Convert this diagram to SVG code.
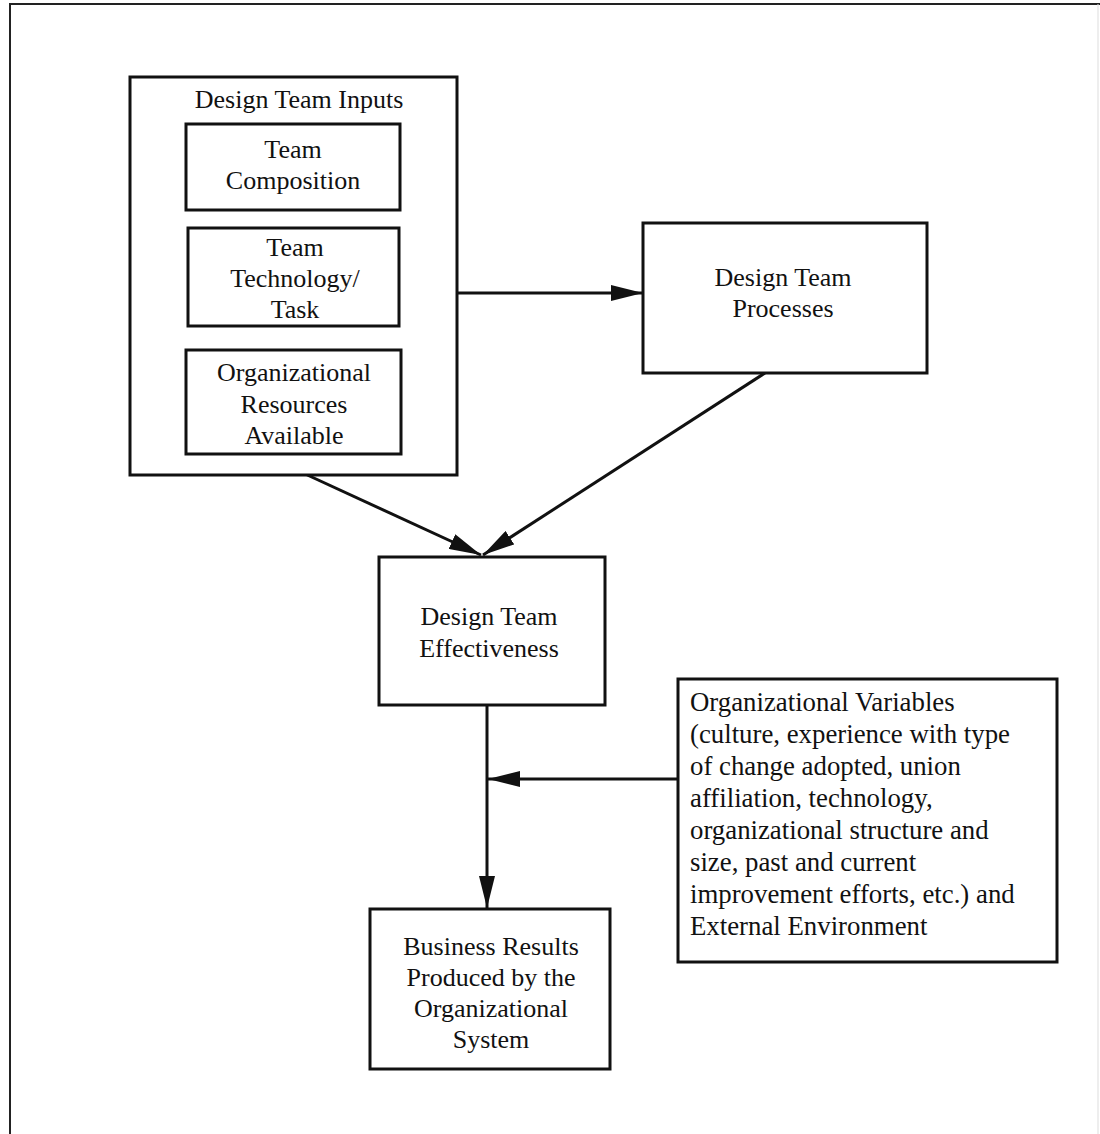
<svg xmlns="http://www.w3.org/2000/svg" width="1100" height="1134" viewBox="0 0 1100 1134">
  <style>
    .box { fill: #ffffff; stroke: #111111; stroke-width: 3; }
    .frame { fill: none; stroke: #222222; stroke-width: 2; }
    .conn { fill: none; stroke: #111111; stroke-width: 3; }
    text { font-family: "Liberation Serif", "Times New Roman", serif; font-size: 26px; fill: #111111; }
    .c { text-anchor: middle; }
    .wide { font-size: 26.8px; }
  </style>
  <defs>
    <marker id="arrow" viewBox="0 0 32 16" refX="32" refY="8" markerWidth="32" markerHeight="16" markerUnits="userSpaceOnUse" orient="auto">
      <path d="M0,0 L32,8 L0,16 z" fill="#111111"/>
    </marker>
  </defs>
  <rect width="1100" height="1134" fill="#ffffff"/>
  <g id="frame">
    <path class="frame" d="M10,1134 V4 H1100"/>
    <path d="M1098,4 V1134" fill="none" stroke="#dddddd" stroke-width="1"/>
  </g>

  <g id="connectors">
    <path class="conn" d="M457,293 H643" marker-end="url(#arrow)"/>
    <path class="conn" d="M303,473 L481,555" marker-end="url(#arrow)"/>
    <path class="conn" d="M765,373 L483,555" marker-end="url(#arrow)"/>
    <path class="conn" d="M487,705 V908" marker-end="url(#arrow)"/>
    <path class="conn" d="M678,779 H488" marker-end="url(#arrow)"/>
  </g>

  <g id="design-team-inputs">
    <rect class="box" x="130" y="77" width="327" height="398"/>
    <text class="c" x="299" y="108">Design Team Inputs</text>
  </g>
  <g id="team-composition">
    <rect class="box" x="186" y="124" width="214" height="86"/>
    <text class="c" x="293" y="158">Team</text>
    <text class="c" x="293" y="189">Composition</text>
  </g>
  <g id="team-technology">
    <rect class="box" x="188" y="228" width="211" height="98"/>
    <text class="c" x="295" y="256">Team</text>
    <text class="c" x="295" y="287">Technology/</text>
    <text class="c" x="295" y="318">Task</text>
  </g>
  <g id="org-resources">
    <rect class="box" x="186" y="350" width="215" height="104"/>
    <text class="c" x="294" y="381">Organizational</text>
    <text class="c" x="294" y="413">Resources</text>
    <text class="c" x="294" y="444">Available</text>
  </g>
  <g id="design-team-processes">
    <rect class="box" x="643" y="223" width="284" height="150"/>
    <text class="c" x="783" y="286">Design Team</text>
    <text class="c" x="783" y="317">Processes</text>
  </g>
  <g id="design-team-effectiveness">
    <rect class="box" x="379" y="557" width="226" height="148"/>
    <text class="c" x="489" y="625">Design Team</text>
    <text class="c" x="489" y="657">Effectiveness</text>
  </g>
  <g id="organizational-variables">
    <rect class="box" x="678" y="679" width="379" height="283"/>
    <text class="wide" x="690" y="711">Organizational Variables</text>
    <text class="wide" x="690" y="743">(culture, experience with type</text>
    <text class="wide" x="690" y="775">of change adopted, union</text>
    <text class="wide" x="690" y="807">affiliation, technology,</text>
    <text class="wide" x="690" y="839">organizational structure and</text>
    <text class="wide" x="690" y="871">size, past and current</text>
    <text class="wide" x="690" y="903">improvement efforts, etc.) and</text>
    <text class="wide" x="690" y="935">External Environment</text>
  </g>
  <g id="business-results">
    <rect class="box" x="370" y="909" width="240" height="160"/>
    <text class="c" x="491" y="955">Business Results</text>
    <text class="c" x="491" y="986">Produced by the</text>
    <text class="c" x="491" y="1017">Organizational</text>
    <text class="c" x="491" y="1048">System</text>
  </g>
</svg>
